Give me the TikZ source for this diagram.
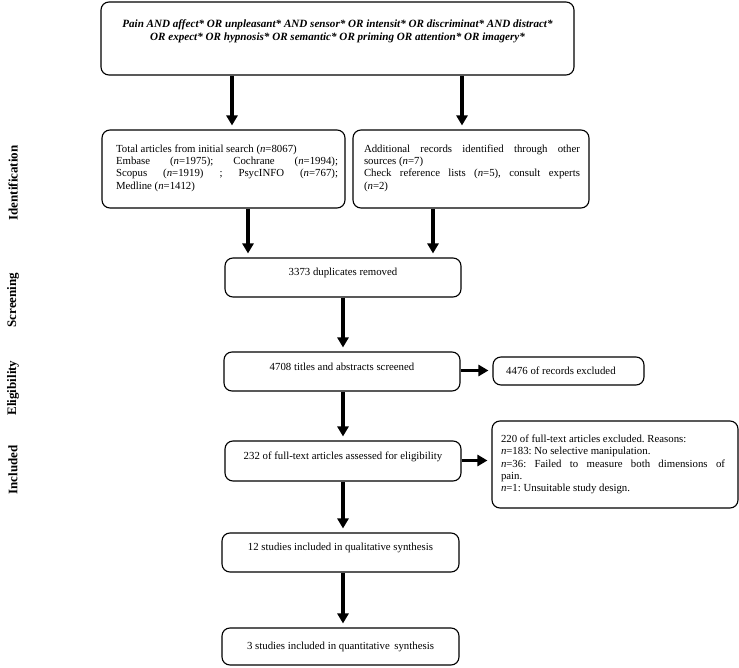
\documentclass[tikz,border=0pt]{standalone}
\usepackage{fontspec}
\setmainfont{Liberation Serif}
\usetikzlibrary{arrows.meta}
\begin{document}
\frenchspacing
\begin{tikzpicture}[x=1pt,y=-1pt,
 box/.style={draw, line width=1.1pt, rounded corners=8pt, inner sep=0pt},
 txt/.style={font=\fontsize{10.8}{12.3}\selectfont, inner sep=0pt},
 arr/.style={line width=3.4pt, -{Triangle[width=11pt,length=10pt]}, shorten >=4pt},
 phase/.style={rotate=90, font=\fontsize{13}{15}\selectfont\bfseries, inner sep=0pt}]
\useasboundingbox (0,0) rectangle (739,668);

% phase labels
\node[phase] (ph1) at (13,183) {Identification};
\node[phase] (ph2) at (13,300) {Screening};
\node[phase] (ph3) at (13,388) {Eligibility};
\node[phase] (ph4) at (13,470) {Included};

% boxes
\node[box, minimum width=473pt, minimum height=73pt] (top) at (337.5,38.5) {};
\node[txt, align=center, font=\fontsize{11.1}{13}\selectfont\bfseries\itshape] (toptxt) at (337.5,31)
 {Pain AND affect* OR unpleasant* AND sensor* OR intensit* OR discriminat* AND distract*\\
  OR expect* OR hypnosis* OR semantic* OR priming OR attention* OR imagery*};

\node[box, minimum width=243pt, minimum height=78pt] (left) at (223.5,169) {};
\node[txt, text width=222pt, align=justify] (lefttxt) at (227,168)
 {Total articles from initial search (\textit{n}=8067)\\
  Embase (\textit{n}=1975); Cochrane (\textit{n}=1994);\linebreak
  Scopus (\textit{n}=1919) ; PsycINFO (\textit{n}=767);\linebreak
  Medline (\textit{n}=1412)};

\node[box, minimum width=236pt, minimum height=78pt] (right) at (471,169) {};
\node[txt, text width=216pt, align=justify] (righttxt) at (472,168)
 {Additional records identified through other\linebreak
  sources (\textit{n}=7)\\
  Check reference lists (\textit{n}=5), consult experts\linebreak
  (\textit{n}=2)};

\node[box, minimum width=236pt, minimum height=39pt] (dup) at (343,277.5) {};
\node[txt] (duptxt) at (343,273) {3373 duplicates removed};

\node[box, minimum width=236pt, minimum height=39pt] (titles) at (342,371.5) {};
\node[txt] (titlestxt) at (342,367) {4708 titles and abstracts screened};

\node[box, minimum width=151pt, minimum height=28pt] (excl1) at (568.5,371) {};
\node[txt, anchor=west] (excl1txt) at (506,371) {4476 of records excluded};

\node[box, minimum width=236pt, minimum height=40pt] (elig) at (343,461) {};
\node[txt] (eligtxt) at (343,457) {232 of full-text articles assessed for eligibility};

\node[box, minimum width=246pt, minimum height=87pt] (excl2) at (615,464.5) {};
\node[txt, text width=224pt, align=justify] (excl2txt) at (613,464.5)
 {220 of full-text articles excluded. Reasons:\\
  \textit{n}=183: No selective manipulation.\\
  \textit{n}=36: Failed to measure both dimensions of\linebreak
  pain.\\
  \textit{n}=1: Unsuitable study design.};

\node[box, minimum width=237pt, minimum height=39pt] (qual) at (340.5,552.5) {};
\node[txt] (qualtxt) at (340.5,548) {12 studies included in qualitative synthesis};

\node[box, minimum width=237pt, minimum height=37pt] (quant) at (340.5,646.5) {};
\node[txt] (quanttxt) at (340.5,647) {3 studies included in quantitative\, synthesis};

% connectors
\coordinate (xA) at (232,0);
\coordinate (xB) at (462,0);
\coordinate (xC) at (248,0);
\coordinate (xD) at (433,0);
\coordinate (xM) at (343,0);
\draw[arr] (top.south -| xA) -- (left.north -| xA);
\draw[arr] (top.south -| xB) -- (right.north -| xB);
\draw[arr] (left.south -| xC) -- (dup.north -| xC);
\draw[arr] (right.south -| xD) -- (dup.north -| xD);
\draw[arr] (dup.south -| xM) -- (titles.north -| xM);
\draw[arr] (titles.south -| xM) -- (elig.north -| xM);
\draw[arr] (elig.south -| xM) -- (qual.north -| xM);
\draw[arr] (qual.south -| xM) -- (quant.north -| xM);
\coordinate (yE) at (0,370.5);
\coordinate (yF) at (0,460.5);
\draw[arr] (titles.east |- yE) -- (excl1.west |- yE);
\draw[arr] (elig.east |- yF) -- (excl2.west |- yF);
\end{tikzpicture}
\end{document}
